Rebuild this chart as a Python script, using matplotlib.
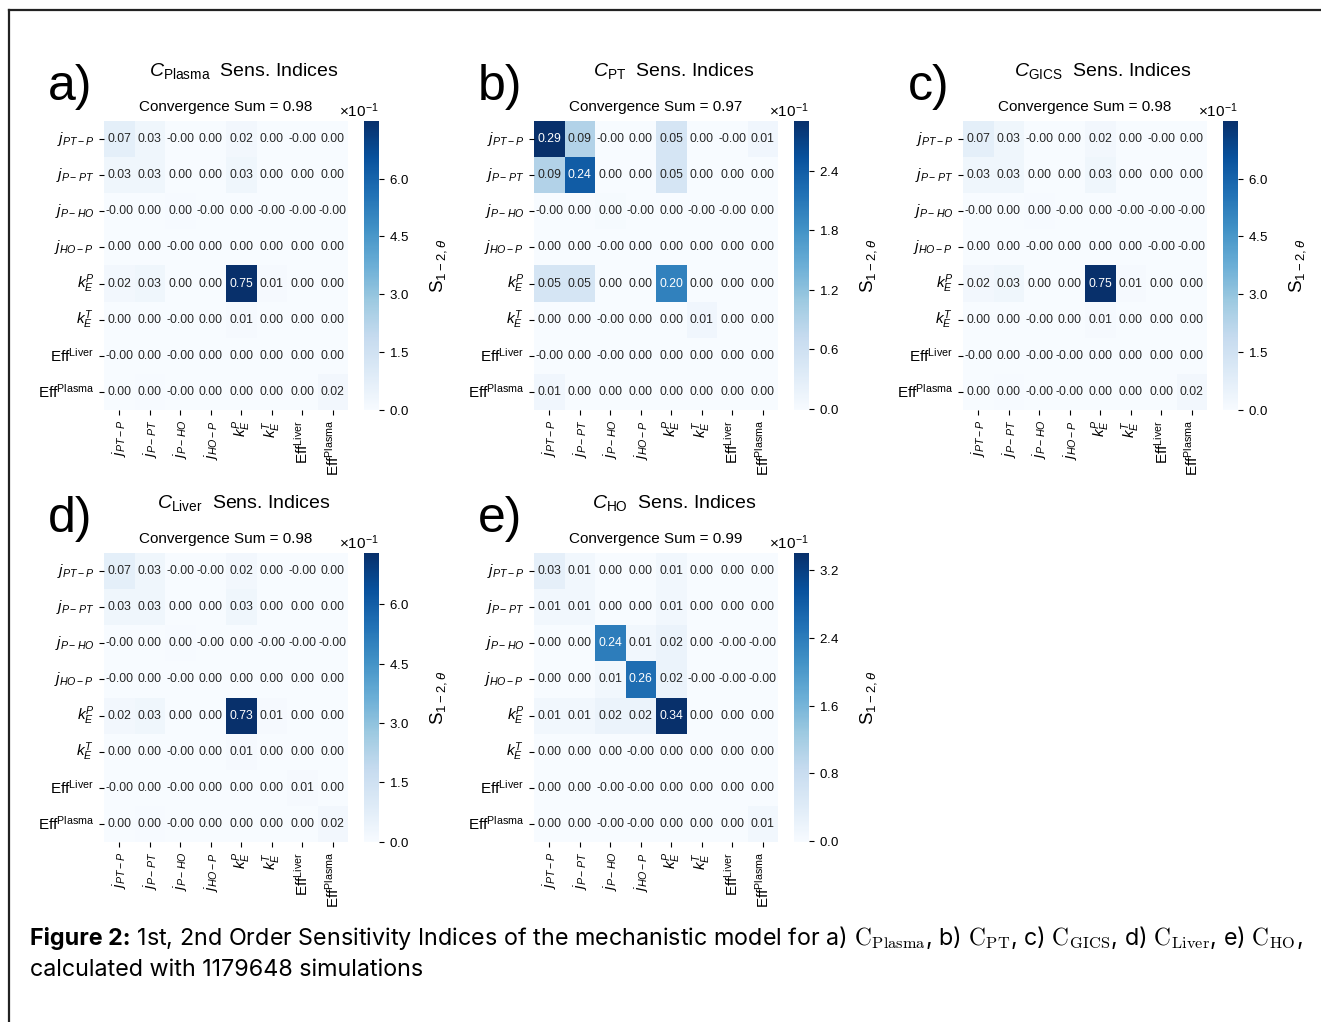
import numpy as np
import matplotlib
matplotlib.use("Agg")
import matplotlib.pyplot as plt
import seaborn as sns
from matplotlib.ticker import ScalarFormatter
from matplotlib.lines import Line2D

plt.rcParams['font.family'] = ['Liberation Sans', 'DejaVu Sans']
plt.rcParams['mathtext.fontset'] = 'custom'
plt.rcParams['mathtext.rm'] = 'Liberation Sans'
plt.rcParams['mathtext.it'] = 'Liberation Sans:italic'
plt.rcParams['mathtext.bf'] = 'Liberation Sans:bold'

# ---------------- data ----------------
params = [r'$j_{PT-P}$', r'$j_{P-PT}$', r'$j_{P-HO}$', r'$j_{HO-P}$',
          r'$k_E^P$', r'$k_E^T$', r'$\mathrm{Eff}^{\mathrm{Liver}}$',
          r'$\mathrm{Eff}^{\mathrm{Plasma}}$']

panel_letters = ['a)', 'b)', 'c)', 'd)', 'e)']
outputs = [r'$C_{\mathrm{Plasma}}$', r'$C_{\mathrm{PT}}$', r'$C_{\mathrm{GICS}}$',
           r'$C_{\mathrm{Liver}}$', r'$C_{\mathrm{HO}}$']
convergence = [0.98, 0.97, 0.98, 0.98, 0.99]

n = -0.001  # displayed as -0.00

S_plasma = [
    [0.07, 0.03, n, 0.00, 0.02, 0.00, n, 0.00],
    [0.03, 0.03, 0.00, 0.00, 0.03, 0.00, 0.00, 0.00],
    [n, 0.00, 0.004, n, 0.00, n, n, n],
    [0.00, 0.00, n, 0.00, 0.00, 0.00, 0.00, 0.00],
    [0.02, 0.03, 0.00, 0.00, 0.75, 0.01, 0.00, 0.00],
    [0.00, 0.00, n, 0.00, 0.01, 0.00, 0.00, 0.00],
    [n, 0.00, n, 0.00, 0.00, 0.00, 0.00, 0.00],
    [0.00, 0.004, n, 0.00, 0.00, 0.00, 0.00, 0.02],
]
S_pt = [
    [0.29, 0.09, n, 0.00, 0.05, 0.00, n, 0.01],
    [0.09, 0.24, 0.00, 0.00, 0.05, 0.00, 0.00, 0.00],
    [n, 0.00, 0.002, n, 0.00, n, n, 0.00],
    [0.00, 0.00, n, 0.00, 0.00, 0.00, 0.00, 0.00],
    [0.05, 0.05, 0.00, 0.00, 0.20, 0.00, 0.00, 0.00],
    [0.00, 0.00, n, 0.00, 0.00, 0.01, 0.00, 0.00],
    [n, 0.00, n, 0.00, 0.00, 0.00, 0.00, 0.00],
    [0.01, 0.00, 0.00, 0.00, 0.00, 0.00, 0.00, 0.00],
]
S_gics = [
    [0.07, 0.03, n, 0.00, 0.02, 0.00, n, 0.00],
    [0.03, 0.03, 0.00, 0.00, 0.03, 0.00, 0.00, 0.00],
    [n, 0.00, 0.004, n, 0.00, n, n, n],
    [0.00, 0.00, n, 0.00, 0.00, 0.00, n, n],
    [0.02, 0.03, 0.00, 0.00, 0.75, 0.01, 0.00, 0.00],
    [0.00, 0.00, n, 0.00, 0.01, 0.00, 0.00, 0.00],
    [n, 0.00, n, n, 0.00, 0.00, 0.00, 0.00],
    [0.00, 0.004, n, n, 0.00, 0.00, 0.00, 0.02],
]
S_liver = [
    [0.07, 0.03, n, n, 0.02, 0.00, n, 0.00],
    [0.03, 0.03, 0.00, 0.00, 0.03, 0.00, 0.00, 0.00],
    [n, 0.00, 0.004, n, 0.00, n, n, n],
    [n, 0.00, n, 0.00, 0.00, 0.00, 0.00, 0.00],
    [0.02, 0.03, 0.00, 0.00, 0.73, 0.01, 0.00, 0.00],
    [0.00, 0.00, n, 0.00, 0.01, 0.00, 0.00, 0.00],
    [n, 0.00, n, 0.00, 0.00, 0.00, 0.01, 0.00],
    [0.00, 0.004, n, 0.00, 0.00, 0.00, 0.00, 0.02],
]
S_ho = [
    [0.03, 0.01, 0.00, 0.00, 0.01, 0.00, 0.00, 0.00],
    [0.01, 0.01, 0.00, 0.00, 0.01, 0.00, 0.00, 0.00],
    [0.00, 0.00, 0.24, 0.01, 0.02, 0.00, n, n],
    [0.00, 0.00, 0.01, 0.26, 0.02, n, n, n],
    [0.01, 0.01, 0.02, 0.02, 0.34, 0.00, 0.00, 0.00],
    [0.00, 0.00, 0.00, n, 0.00, 0.00, 0.00, 0.00],
    [0.00, 0.00, n, n, 0.00, 0.00, 0.00, 0.00],
    [0.00, 0.00, n, n, 0.00, 0.00, 0.00, 0.01],
]
matrices = [S_plasma, S_pt, S_gics, S_liver, S_ho]

cbar_ticks = [
    [0.0, 0.15, 0.30, 0.45, 0.60],
    [0.0, 0.06, 0.12, 0.18, 0.24],
    [0.0, 0.15, 0.30, 0.45, 0.60],
    [0.0, 0.15, 0.30, 0.45, 0.60],
    [0.0, 0.08, 0.16, 0.24, 0.32],
]

caption_bold = 'Figure 2:'
caption_line1 = (r' 1st, 2nd Order Sensitivity Indices of the mechanistic model for '
                 r'a) $\mathrm{C}_{\mathrm{Plasma}}$, b) $\mathrm{C}_{\mathrm{PT}}$, '
                 r'c) $\mathrm{C}_{\mathrm{GICS}}$, d) $\mathrm{C}_{\mathrm{Liver}}$, '
                 r'e) $\mathrm{C}_{\mathrm{HO}}$,')
caption_line2 = 'calculated with 1179648 simulations'

# ---------------- layout ----------------
W, H = 1321, 1022
fig = plt.figure(figsize=(W / 100, H / 100), dpi=100)


def rect(l, t, w, h):
    return [l / W, 1 - (t + h) / H, w / W, h / H]


def fx(x):
    return x / W


def fy(y):
    return 1 - y / H


heat_left = [104, 534, 963, 104, 534]
heat_top = [121, 121, 121, 553, 553]
HW, HH = 244, 289

for i in range(5):
    L, T = heat_left[i], heat_top[i]
    ax = fig.add_axes(rect(L, T, HW, HH))
    cax = fig.add_axes(rect(L + 260, T, 15, HH))
    data = np.array(matrices[i])
    sns.heatmap(data, ax=ax, cbar_ax=cax, cmap='Blues', annot=True, fmt='.2f',
                annot_kws={'fontsize': 8.8}, xticklabels=params, yticklabels=params)
    ax.tick_params(axis='both', labelsize=11, length=3.5, width=0.8)
    ax.set_yticklabels(params, rotation=0)
    ax.set_xticklabels(params, rotation=90)

    cb = ax.collections[0].colorbar
    cb.set_ticks(cbar_ticks[i])
    fmt = ScalarFormatter(useMathText=True)
    fmt.set_powerlimits((0, 0))
    cb.ax.yaxis.set_major_formatter(fmt)
    cb.ax.tick_params(labelsize=9.5, length=3.5, width=0.8)
    cb.ax.yaxis.offsetText.set_fontsize(11)
    cb.ax.yaxis.offsetText.set_horizontalalignment('right')

    fig.text(fx(L + 140), fy(T - 50), outputs[i] + '  Sens. Indices',
             ha='center', va='center', fontsize=14)
    fig.text(fx(L + 122), fy(T - 14), f'Convergence Sum = {convergence[i]:.2f}',
             ha='center', va='center', fontsize=11)
    fig.text(fx(L - 34), fy(T - 34), panel_letters[i], ha='center', va='center',
             fontsize=36)
    fig.text(fx(L + 335), fy(T + 145), r'$\mathrm{S}_{1-2,\theta}$', rotation=90,
             ha='center', va='center', fontsize=13.5)

# caption
t1 = fig.text(fx(30), fy(938), caption_bold, fontsize=16.8, fontweight='bold',
              family=['Inter', 'DejaVu Sans'], ha='left', va='center')
r = fig.canvas.get_renderer()
bb = t1.get_window_extent(renderer=r)
fig.text(bb.x1 / W, fy(938), caption_line1, fontsize=16.8,
         family=['Inter', 'DejaVu Sans'], ha='left', va='center', math_fontfamily='cm')
fig.text(fx(30), fy(970), caption_line2, fontsize=16.8,
         family=['Inter', 'DejaVu Sans'], ha='left', va='center')

# frame
fig.add_artist(Line2D([fx(9), fx(9)], [0, fy(10)], color='#222222', lw=1.6))
fig.add_artist(Line2D([fx(9), 1.0], [fy(10), fy(10)], color='#222222', lw=1.6))

fig.savefig('out.png', dpi=100, facecolor='white')
